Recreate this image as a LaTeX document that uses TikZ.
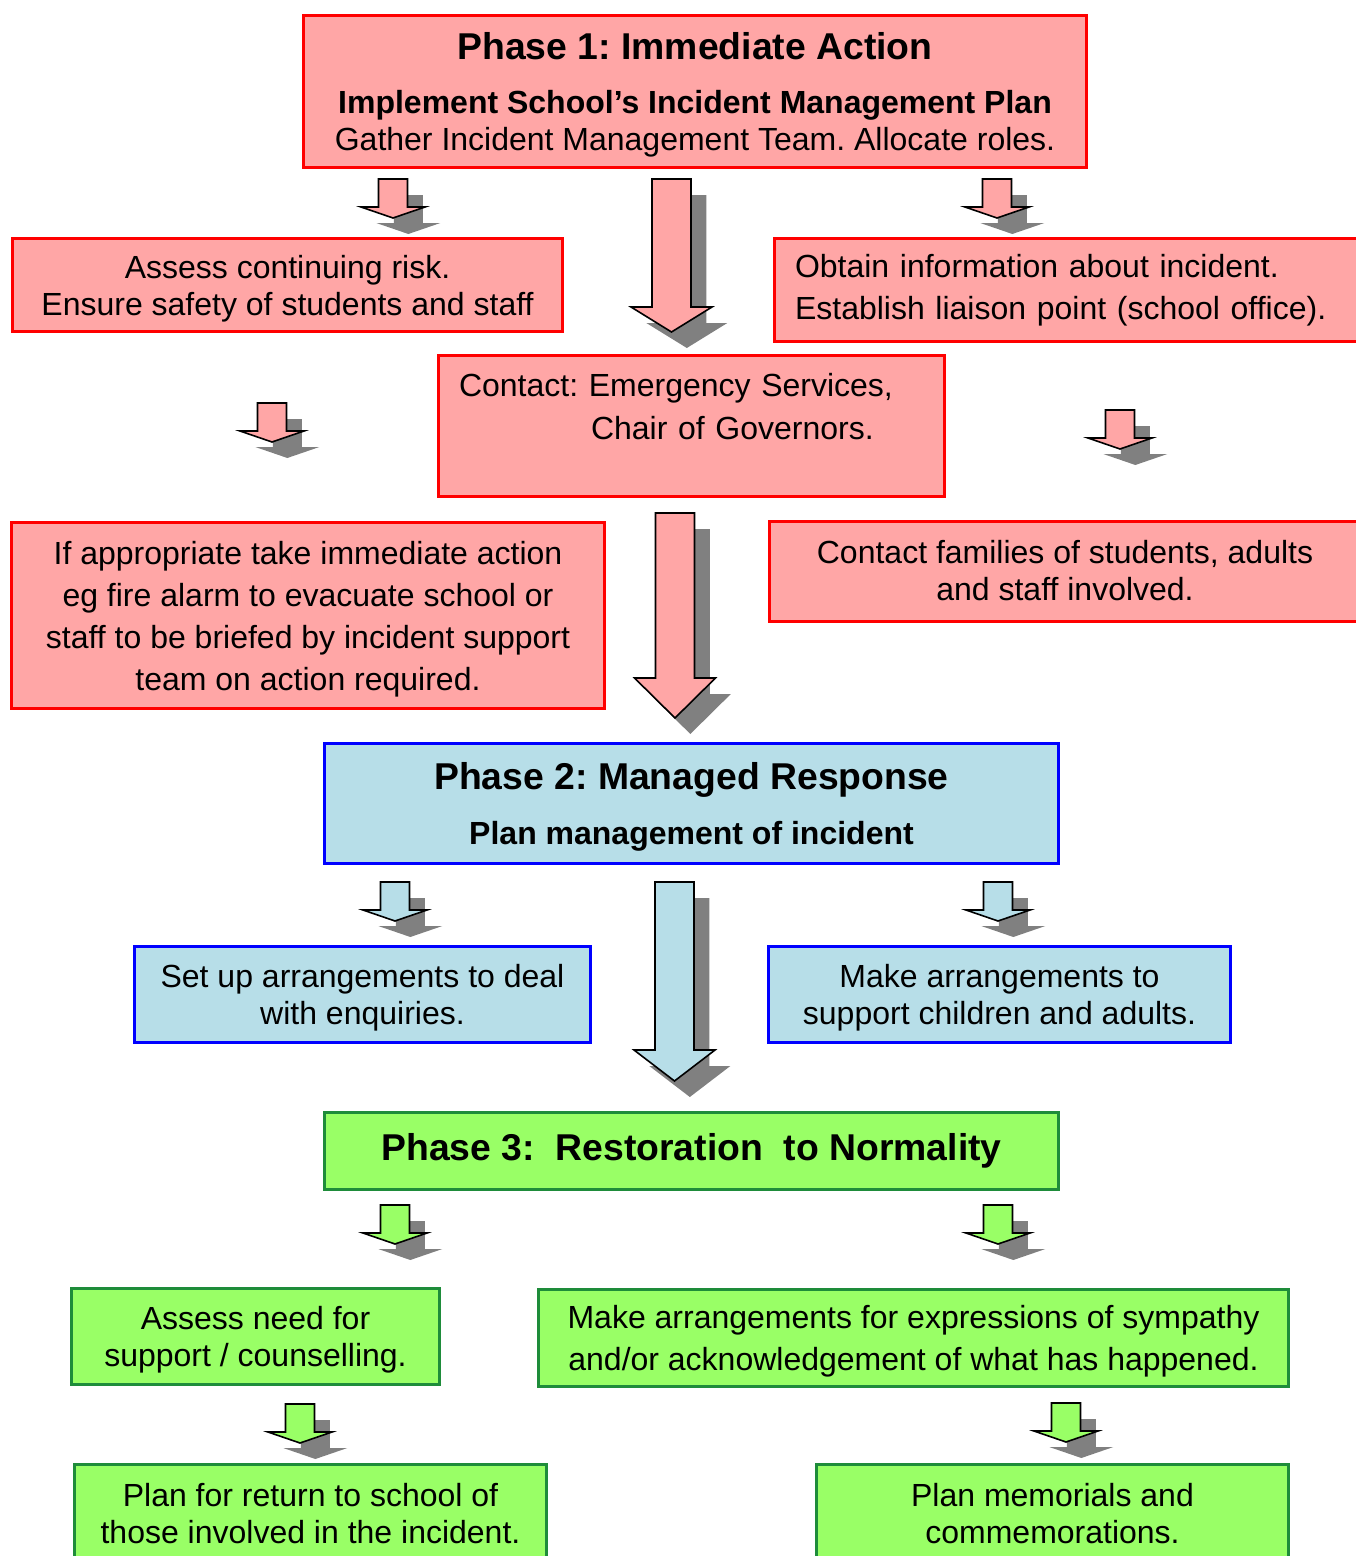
\documentclass[tikz,border=0pt]{standalone}
\usepackage{fontspec}
\setmainfont{Liberation Sans}
\frenchspacing
\usetikzlibrary{shadows}
\definecolor{redfill}{HTML}{FFA6A6}
\definecolor{bluefill}{HTML}{B7DEE8}
\definecolor{greenfill}{HTML}{99FF66}
\definecolor{greenline}{HTML}{1E8C3A}
\definecolor{shadowgray}{HTML}{808080}
\tikzset{
  size/.style 2 args={minimum width=#1*0.75pt, minimum height=#2*0.75pt},
  box/.style={rectangle, line width=2.25pt, align=center, inner sep=0pt,
    font=\fontsize{24}{27.75}\selectfont},
  redbox/.style={box, draw=red, fill=redfill},
  bluebox/.style={box, draw=blue, fill=bluefill},
  greenbox/.style={box, draw=greenline, fill=greenfill},
  wide/.style={font=\fontsize{24}{31.5}\selectfont},
  title/.style={font=\fontsize{28}{33}\selectfont\bfseries},
  flat/.style={text depth=0pt},
  arrowshadow/.style={drop shadow={shadow xshift=11.5pt, shadow yshift=-12pt,
    opacity=1, fill=shadowgray}},
  pics/smallarrow/.style={code={
    \filldraw[fill=#1, draw=black, line width=1.2pt, arrowshadow]
      (-14.5,0) -- (14.5,0) -- (14.5,28) -- (32,28) -- (0,39) -- (-32,28) -- (-14.5,28) -- cycle;
  }},
  pics/bigarrow/.style n args={3}{code={
    \filldraw[fill=#1, draw=black, line width=1.2pt, arrowshadow]
      (-19.5,0) -- (19.5,0) -- (19.5,#2) -- (40.5,#2) -- (0,#2+#3) -- (-40.5,#2) -- (-19.5,#2) -- cycle;
  }}
}
\begin{document}
\begin{tikzpicture}[x=0.75pt, y=-0.75pt]
\clip (0,0) rectangle (1356,1556);
% phase 1
\node[redbox, flat, size={783}{152}] (phaseone) at (695,91.5)
  {{\fontsize{28}{33}\selectfont\bfseries Phase 1: Immediate Action}\\[13pt]
   {\bfseries Implement School’s Incident Management Plan}\\
   Gather Incident Management Team. Allocate roles.};
\node[redbox, flat, size={550}{93}] (risk) at (287.5,285)
  {Assess continuing risk.\\ Ensure safety of students and staff};
\node[redbox, wide, size={594}{103}, align=left, inner xsep=15.4pt, text width=414.75pt] (info) at (1071.5,290)
  {Obtain information about incident.\\ Establish liaison point (school office).};
\node[redbox, size={506}{141}, align=left, inner xsep=15.4pt, text width=348.75pt,
  font=\fontsize{24}{32.25}\selectfont] (contact) at (691.5,426)
  {Contact: Emergency Services,\\ \hspace*{99pt}Chair of Governors.\\[-3pt] \mbox{}};
\node[redbox, wide, flat, size={593}{186}] (action) at (308,615.5)
  {If appropriate take immediate action\\ eg fire alarm to evacuate school or\\
   staff to be briefed by incident support\\ team on action required.};
\node[redbox, size={591}{100}] (families) at (1065,571)
  {Contact families of students, adults\\ and staff involved.};
% phase 2
\node[bluebox, flat, size={734}{120}] (phasetwo) at (691.5,803.5)
  {{\fontsize{28}{33}\selectfont\bfseries Phase 2: Managed Response}\\[13pt]
   {\bfseries Plan management of incident}};
\node[bluebox, flat, size={456}{96}] (enquiries) at (362.5,994.5)
  {Set up arrangements to deal\\ with enquiries.};
\node[bluebox, flat, size={462}{96}] (support) at (999.5,994.5)
  {Make arrangements to\\ support children and adults.};
% phase 3
\node[greenbox, title, size={734}{77}] (phasethree) at (691.5,1151)
  {Phase 3:\ \ Restoration\ \ to Normality};
\node[greenbox, flat, size={368}{96}] (counselling) at (255.5,1336.5)
  {Assess need for\\ support / counselling.};
\node[greenbox, wide, flat, size={750}{97}] (sympathy) at (913.5,1338)
  {Make arrangements for expressions of sympathy\\ and/or acknowledgement of what has happened.};
\node[greenbox, size={472}{98}] (return) at (310.5,1513.5)
  {Plan for return to school of\\ those involved in the incident.};
\node[greenbox, size={472}{98}] (memorials) at (1052.5,1513.5)
  {Plan memorials and\\ commemorations.};
% arrows
\pic at (671.5,179) {bigarrow={redfill}{128}{25}};
\pic at (675,513) {bigarrow={redfill}{165}{40}};
\pic at (674.5,882) {bigarrow={bluefill}{168}{31}};
\pic at (393,179) {smallarrow=redfill};
\pic at (997,179) {smallarrow=redfill};
\pic at (272,403) {smallarrow=redfill};
\pic at (1120,410) {smallarrow=redfill};
\pic at (395,882) {smallarrow=bluefill};
\pic at (998,882) {smallarrow=bluefill};
\pic at (395,1205) {smallarrow=greenfill};
\pic at (998,1205) {smallarrow=greenfill};
\pic at (300,1404) {smallarrow=greenfill};
\pic at (1066,1403) {smallarrow=greenfill};
\end{tikzpicture}
\end{document}
